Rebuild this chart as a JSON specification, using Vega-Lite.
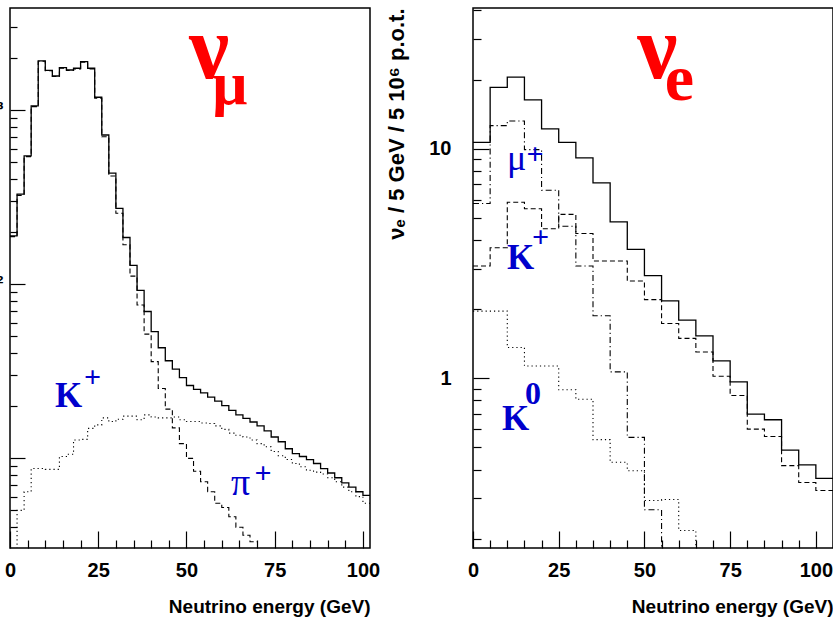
{
  "$schema": "https://vega.github.io/schema/vega-lite/v6.json",
  "background": "white",
  "padding": {"left": -27, "top": -1, "right": -2, "bottom": 0},
  "spacing": 4,
  "config": {
    "view": {"stroke": "black", "strokeWidth": 1.5},
    "axis": {
      "domain": false, "grid": false, "tickColor": "black", "tickWidth": 1.2,
      "labelFont": "Liberation Sans", "labelFontWeight": "bold", "labelFontSize": 20, "labelColor": "black",
      "titleFont": "Liberation Sans", "titleFontWeight": "bold", "titleFontSize": 19, "titleColor": "black",
      "labelOverlap": false, "labelBound": false, "labelFlush": false
    }
  },
  "datasets": {
    "numu_tot": [
      {"E":0,"v":189},{"E":2,"v":328},{"E":4,"v":545},{"E":6,"v":1054},{"E":8,"v":1914},{"E":10,"v":1690},{"E":12,"v":1567},{"E":14,"v":1750},{"E":16,"v":1697},{"E":18,"v":1736},{"E":20,"v":1895},{"E":22,"v":1736},{"E":24,"v":1183},{"E":26,"v":718},{"E":28,"v":433},{"E":30,"v":272},{"E":32,"v":185},{"E":34,"v":128},{"E":36,"v":92},{"E":38,"v":69.5},{"E":40,"v":53.2},{"E":42,"v":43},{"E":44,"v":36.2},{"E":46,"v":32.4},{"E":48,"v":29},{"E":50,"v":26.1},{"E":52,"v":24.8},{"E":54,"v":23.7},{"E":56,"v":22.4},{"E":58,"v":21.2},{"E":60,"v":20},{"E":62,"v":18.8},{"E":64,"v":17.7},{"E":66,"v":16.9},{"E":68,"v":16.1},{"E":70,"v":15.3},{"E":72,"v":14.3},{"E":74,"v":13.2},{"E":76,"v":12.4},{"E":78,"v":11.3},{"E":80,"v":10.6},{"E":82,"v":10.2},{"E":84,"v":9.8},{"E":86,"v":9.3},{"E":88,"v":8.7},{"E":90,"v":8.2},{"E":92,"v":7.7},{"E":94,"v":7.2},{"E":96,"v":6.8},{"E":98,"v":6.4},{"E":100,"v":6.1},{"E":102,"v":6.1}
    ],
    "numu_pi": [
      {"E":0,"v":187},{"E":2,"v":323},{"E":4,"v":539},{"E":6,"v":1045},{"E":8,"v":1905},{"E":10,"v":1681},{"E":12,"v":1558},{"E":14,"v":1740},{"E":16,"v":1686},{"E":18,"v":1723},{"E":20,"v":1882},{"E":22,"v":1721},{"E":24,"v":1167},{"E":26,"v":701},{"E":28,"v":417},{"E":30,"v":255},{"E":32,"v":168},{"E":34,"v":111},{"E":36,"v":75.7},{"E":38,"v":51.5},{"E":40,"v":35.8},{"E":42,"v":25.1},{"E":44,"v":19.1},{"E":46,"v":14.9},{"E":48,"v":12.1},{"E":50,"v":9.95},{"E":52,"v":8.4},{"E":54,"v":7.3},{"E":56,"v":6.4},{"E":58,"v":5.5},{"E":60,"v":5.2},{"E":62,"v":4.6},{"E":64,"v":4.0},{"E":66,"v":3.6},{"E":68,"v":3.3},{"E":70,"v":3.3}
    ],
    "numu_K": [
      {"E":0,"v":2.5},{"E":2,"v":5.0},{"E":4,"v":6.4},{"E":6,"v":8.7},{"E":8,"v":8.7},{"E":10,"v":8.6},{"E":12,"v":8.6},{"E":14,"v":10.2},{"E":16,"v":10.5},{"E":18,"v":12.7},{"E":20,"v":12.8},{"E":22,"v":14.8},{"E":24,"v":15.5},{"E":26,"v":17.0},{"E":28,"v":16.2},{"E":30,"v":16.7},{"E":32,"v":17.4},{"E":34,"v":17.4},{"E":36,"v":16.6},{"E":38,"v":17.7},{"E":40,"v":17.2},{"E":42,"v":17.0},{"E":44,"v":17.0},{"E":46,"v":17.2},{"E":48,"v":16.6},{"E":50,"v":16.2},{"E":52,"v":16.2},{"E":54,"v":15.9},{"E":56,"v":15.8},{"E":58,"v":15.3},{"E":60,"v":14.6},{"E":62,"v":13.9},{"E":64,"v":13.5},{"E":66,"v":13.2},{"E":68,"v":12.7},{"E":70,"v":12.1},{"E":72,"v":11.6},{"E":74,"v":10.9},{"E":76,"v":10.3},{"E":78,"v":9.8},{"E":80,"v":9.3},{"E":82,"v":8.9},{"E":84,"v":8.5},{"E":86,"v":8.3},{"E":88,"v":8.1},{"E":90,"v":7.7},{"E":92,"v":7.3},{"E":94,"v":6.8},{"E":96,"v":6.4},{"E":98,"v":6.0},{"E":100,"v":5.5},{"E":102,"v":5.5}
    ],
    "nue_tot": [
      {"E":0,"v":10.65},{"E":5,"v":18.5},{"E":10,"v":20.5},{"E":15,"v":16.3},{"E":20,"v":12.2},{"E":25,"v":10.65},{"E":30,"v":9.11},{"E":35,"v":7.09},{"E":40,"v":4.8},{"E":45,"v":3.64},{"E":50,"v":2.8},{"E":55,"v":2.17},{"E":60,"v":1.79},{"E":65,"v":1.53},{"E":70,"v":1.19},{"E":75,"v":0.964},{"E":80,"v":0.697},{"E":85,"v":0.659},{"E":90,"v":0.486},{"E":95,"v":0.419},{"E":100,"v":0.366},{"E":105,"v":0.366}
    ],
    "nue_Kp": [
      {"E":0,"v":3.08},{"E":5,"v":3.7},{"E":10,"v":5.84},{"E":15,"v":5.47},{"E":20,"v":4.48},{"E":25,"v":5.17},{"E":30,"v":4.27},{"E":35,"v":3.24},{"E":40,"v":3.24},{"E":45,"v":2.65},{"E":50,"v":2.2},{"E":55,"v":1.73},{"E":60,"v":1.49},{"E":65,"v":1.3},{"E":70,"v":1.02},{"E":75,"v":0.84},{"E":80,"v":0.6},{"E":85,"v":0.557},{"E":90,"v":0.416},{"E":95,"v":0.351},{"E":100,"v":0.324},{"E":105,"v":0.324}
    ],
    "nue_mu": [
      {"E":0,"v":5.77},{"E":5,"v":12.6},{"E":10,"v":13.2},{"E":15,"v":9.9},{"E":20,"v":6.59},{"E":25,"v":4.59},{"E":30,"v":3.08},{"E":35,"v":1.87},{"E":40,"v":1.065},{"E":45,"v":0.552},{"E":50,"v":0.267},{"E":55,"v":0.1},{"E":60,"v":0.1}
    ],
    "nue_K0": [
      {"E":0,"v":1.96},{"E":5,"v":1.96},{"E":10,"v":1.36},{"E":15,"v":1.13},{"E":20,"v":1.13},{"E":25,"v":0.89},{"E":30,"v":0.81},{"E":35,"v":0.54},{"E":40,"v":0.43},{"E":45,"v":0.395},{"E":50,"v":0.293},{"E":55,"v":0.296},{"E":60,"v":0.217},{"E":65,"v":0.1},{"E":70,"v":0.1}
    ]
  },
  "hconcat": [
    {
      "width": 360,
      "height": 540,
      "encoding": {
        "x": {"field": "E", "type": "quantitative",
          "scale": {"domain": [0, 102], "nice": false, "zero": false},
          "axis": {
            "values": [0,5,10,15,20,25,30,35,40,45,50,55,60,65,70,75,80,85,90,95,100],
            "labelExpr": "datum.value % 25 == 0 ? datum.label : ''",
            "tickSize": {"condition": {"test": "datum.value % 25 == 0", "value": -17}, "value": -8},
            "labelPadding": 29,
            "title": "Neutrino energy (GeV)", "titleAnchor": "end", "titlePadding": 8
          }
        },
        "y": {"field": "v", "type": "quantitative",
          "scale": {"type": "log", "domain": [3.04, 3853], "nice": false},
          "axis": {
            "values": [4,5,6,7,8,9,10,20,30,40,50,60,70,80,90,100,200,300,400,500,600,700,800,900,1000,2000,3000],
            "labelExpr": "datum.value == 1000 ? '10³' : datum.value == 100 ? '10²' : ''",
            "tickSize": {"condition": {"test": "datum.value == 10 || datum.value == 100 || datum.value == 1000", "value": -15}, "value": -7},
            "labelPadding": 22,
            "title": null
          }
        }
      },
      "layer": [
        {"data": {"name": "numu_tot"}, "mark": {"type": "line", "interpolate": "step-after", "color": "black", "strokeWidth": 1.3, "clip": true}},
        {"data": {"name": "numu_pi"}, "mark": {"type": "line", "interpolate": "step-after", "color": "black", "strokeWidth": 1.1, "strokeDash": [5, 3], "clip": true}},
        {"data": {"name": "numu_K"}, "mark": {"type": "line", "interpolate": "step-after", "color": "black", "strokeWidth": 1.1, "strokeDash": [1.2, 3], "clip": true}},
        {"data": {"values": [{"E": 56.4, "v": 1528, "t": "ν"}]},
          "mark": {"type": "text", "font": "Liberation Serif", "fontSize": 90, "fontWeight": "bold", "color": "#ff0000", "align": "center", "baseline": "alphabetic"},
          "encoding": {"text": {"field": "t"}}},
        {"data": {"values": [{"E": 62.3, "v": 1083, "t": "μ"}]},
          "mark": {"type": "text", "font": "Liberation Serif", "fontSize": 62, "fontWeight": "bold", "color": "#ff0000", "align": "center", "baseline": "alphabetic"},
          "encoding": {"text": {"field": "t"}}},
        {"data": {"values": [{"E": 16.6, "v": 19.6, "t": "K"}]},
          "mark": {"type": "text", "font": "Liberation Serif", "fontSize": 35, "fontWeight": "bold", "color": "#0000cc", "align": "center", "baseline": "alphabetic"},
          "encoding": {"text": {"field": "t"}}},
        {"data": {"values": [{"E": 23.4, "v": 28.8, "t": "+"}, {"E": 71.7, "v": 8.04, "t": "+"}]},
          "mark": {"type": "text", "font": "Liberation Serif", "fontSize": 30, "fontWeight": "bold", "color": "#0000cc", "align": "center", "baseline": "middle"},
          "encoding": {"text": {"field": "t"}}},
        {"data": {"values": [{"E": 65.3, "v": 6.12, "t": "π"}]},
          "mark": {"type": "text", "font": "Liberation Serif", "fontSize": 38, "color": "#0000cc", "align": "center", "baseline": "alphabetic"},
          "encoding": {"text": {"field": "t"}}}
      ]
    },
    {
      "width": 360,
      "height": 540,
      "encoding": {
        "x": {"field": "E", "type": "quantitative",
          "scale": {"domain": [0, 105], "nice": false, "zero": false},
          "axis": {
            "values": [0,5,10,15,20,25,30,35,40,45,50,55,60,65,70,75,80,85,90,95,100,105],
            "labelExpr": "datum.value % 25 == 0 ? datum.label : ''",
            "tickSize": {"condition": {"test": "datum.value % 25 == 0", "value": -17}, "value": -8},
            "labelPadding": 29,
            "title": "Neutrino energy (GeV)", "titleAnchor": "end", "titlePadding": 8
          }
        },
        "y": {"field": "v", "type": "quantitative",
          "scale": {"type": "log", "domain": [0.182, 41], "nice": false},
          "axis": {
            "values": [0.2,0.3,0.4,0.5,0.6,0.7,0.8,0.9,1,2,3,4,5,6,7,8,9,10,20,30,40],
            "labelExpr": "datum.value == 1 ? '1' : datum.value == 10 ? '10' : ''",
            "tickSize": {"condition": {"test": "datum.value == 1 || datum.value == 10", "value": -16}, "value": -8},
            "labelPadding": 38,
            "title": "νₑ / 5 GeV / 5 10⁶ p.o.t.", "titleAnchor": "end", "titleFontSize": 22, "titlePadding": 20
          }
        }
      },
      "layer": [
        {"data": {"name": "nue_tot"}, "mark": {"type": "line", "interpolate": "step-after", "color": "black", "strokeWidth": 1.3, "clip": true}},
        {"data": {"name": "nue_Kp"}, "mark": {"type": "line", "interpolate": "step-after", "color": "black", "strokeWidth": 1.1, "strokeDash": [5, 3], "clip": true}},
        {"data": {"name": "nue_mu"}, "mark": {"type": "line", "interpolate": "step-after", "color": "black", "strokeWidth": 1.1, "strokeDash": [6, 3, 1.2, 3], "clip": true}},
        {"data": {"name": "nue_K0"}, "mark": {"type": "line", "interpolate": "step-after", "color": "black", "strokeWidth": 1.1, "strokeDash": [1.2, 3], "clip": true}},
        {"data": {"values": [{"E": 53.8, "v": 20.4, "t": "ν"}]},
          "mark": {"type": "text", "font": "Liberation Serif", "fontSize": 90, "fontWeight": "bold", "color": "#ff0000", "align": "center", "baseline": "alphabetic"},
          "encoding": {"text": {"field": "t"}}},
        {"data": {"values": [{"E": 60.2, "v": 16.3, "t": "e"}]},
          "mark": {"type": "text", "font": "Liberation Serif", "fontSize": 66, "fontWeight": "bold", "color": "#ff0000", "align": "center", "baseline": "alphabetic"},
          "encoding": {"text": {"field": "t"}}},
        {"data": {"values": [{"E": 12.7, "v": 8.11, "t": "μ"}]},
          "mark": {"type": "text", "font": "Liberation Serif", "fontSize": 36, "color": "#0000cc", "align": "center", "baseline": "alphabetic"},
          "encoding": {"text": {"field": "t"}}},
        {"data": {"values": [{"E": 13.85, "v": 2.98, "t": "K"}, {"E": 12.4, "v": 0.594, "t": "K"}]},
          "mark": {"type": "text", "font": "Liberation Serif", "fontSize": 35, "fontWeight": "bold", "color": "#0000cc", "align": "center", "baseline": "alphabetic"},
          "encoding": {"text": {"field": "t"}}},
        {"data": {"values": [{"E": 18.1, "v": 9.42, "t": "+"}, {"E": 19.7, "v": 4.06, "t": "+"}]},
          "mark": {"type": "text", "font": "Liberation Serif", "fontSize": 30, "fontWeight": "bold", "color": "#0000cc", "align": "center", "baseline": "middle"},
          "encoding": {"text": {"field": "t"}}},
        {"data": {"values": [{"E": 17.5, "v": 0.852, "t": "0"}]},
          "mark": {"type": "text", "font": "Liberation Serif", "fontSize": 32, "fontWeight": "bold", "color": "#0000cc", "align": "center", "baseline": "middle"},
          "encoding": {"text": {"field": "t"}}}
      ]
    }
  ]
}
